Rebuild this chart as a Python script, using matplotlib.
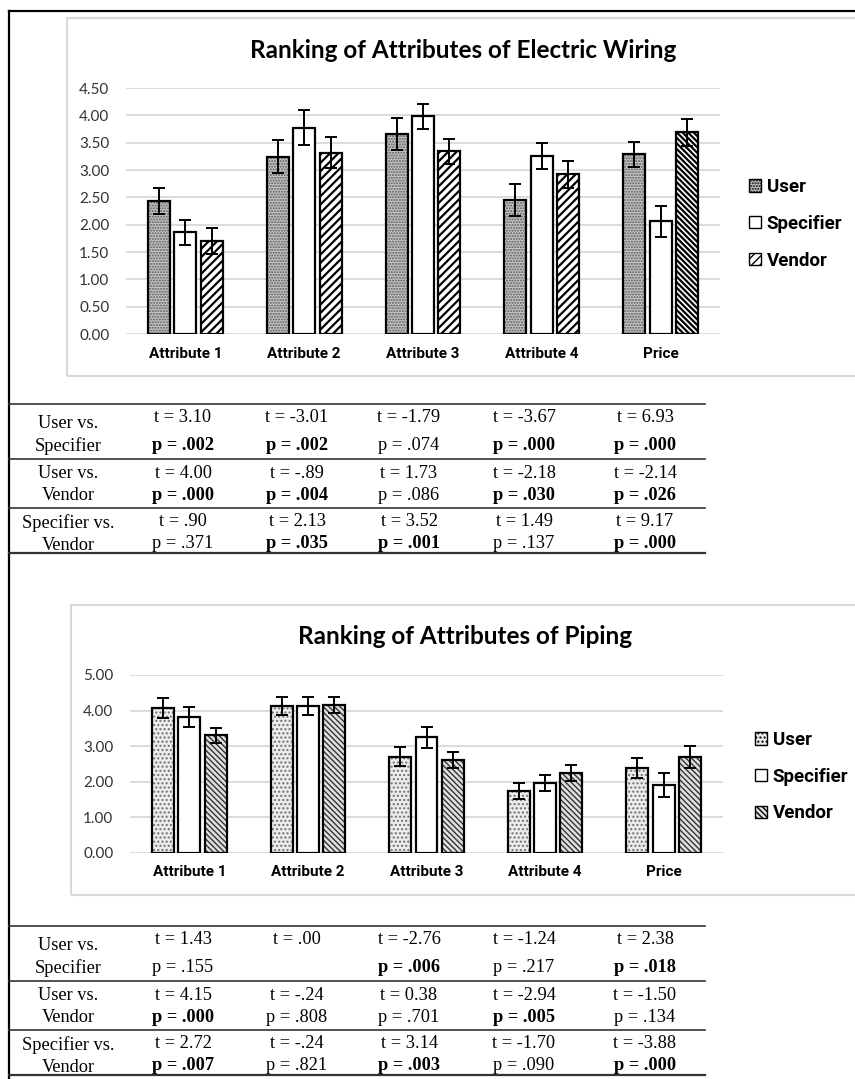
import matplotlib
matplotlib.use('Agg')
import matplotlib.pyplot as plt
import numpy as np
from matplotlib.patches import Rectangle, Patch
from matplotlib.lines import Line2D

categories = ['Attribute 1', 'Attribute 2', 'Attribute 3', 'Attribute 4', 'Price']
groups = ['User', 'Specifier', 'Vendor']

# electric wiring means and error half-widths
wiring_user = [2.43, 3.24, 3.66, 2.45, 3.29]
wiring_spec = [1.86, 3.77, 3.98, 3.25, 2.06]
wiring_vendor = [1.70, 3.32, 3.34, 2.92, 3.69]
wiring_user_err = [0.24, 0.30, 0.29, 0.29, 0.23]
wiring_spec_err = [0.23, 0.32, 0.23, 0.24, 0.29]
wiring_vendor_err = [0.24, 0.29, 0.23, 0.25, 0.25]

# piping means and error half-widths
piping_user = [4.07, 4.13, 2.70, 1.74, 2.39]
piping_spec = [3.82, 4.13, 3.25, 1.97, 1.91]
piping_vendor = [3.31, 4.16, 2.61, 2.25, 2.70]
piping_user_err = [0.27, 0.25, 0.27, 0.23, 0.29]
piping_spec_err = [0.29, 0.24, 0.30, 0.22, 0.34]
piping_vendor_err = [0.21, 0.23, 0.22, 0.23, 0.31]

pair_labels = [('User vs.', 'Specifier'), ('User vs.', 'Vendor'), ('Specifier vs.', 'Vendor')]

wiring_t = [['3.10', '-3.01', '-1.79', '-3.67', '6.93'],
            ['4.00', '-.89', '1.73', '-2.18', '-2.14'],
            ['.90', '2.13', '3.52', '1.49', '9.17']]
wiring_p = [['.002', '.002', '.074', '.000', '.000'],
            ['.000', '.004', '.086', '.030', '.026'],
            ['.371', '.035', '.001', '.137', '.000']]

piping_t = [['1.43', '.00', '-2.76', '-1.24', '2.38'],
            ['4.15', '-.24', '0.38', '-2.94', '-1.50'],
            ['2.72', '-.24', '3.14', '-1.70', '-3.88']]
piping_p = [['.155', '', '.006', '.217', '.018'],
            ['.000', '.808', '.701', '.005', '.134'],
            ['.007', '.821', '.003', '.090', '.000']]

W, H = 855, 1079
fig = plt.figure(figsize=(W / 100, H / 100), dpi=100)

TITLE_FONT = ['Lato', 'DejaVu Sans']
NARROW_FONT = ['Roboto', 'Liberation Sans', 'DejaVu Sans']
SERIF_FONT = ['Liberation Serif', 'DejaVu Serif']
TABLE_SIZE = 13.2


def fx(x):
    return x / W


def fy(y):
    return 1 - y / H


def box(x0, y0, x1, y1):
    fig.patches.append(Rectangle((fx(x0), fy(y1)), fx(x1 - x0), (y1 - y0) / H,
                                 transform=fig.transFigure, fill=False,
                                 edgecolor='#d9d9d9', lw=1.5, zorder=0))


def hline(x0, x1, y, lw=1.2, color='#333333'):
    fig.lines.append(Line2D([fx(x0), fx(x1)], [fy(y), fy(y)], transform=fig.transFigure,
                            color=color, lw=lw))


def draw_chart(rect, series, errs, styles, ymax, ystep, title, title_xy, legend_xy,
               price_vendor_hatch=None):
    x0, y0, x1, y1 = rect
    ax = fig.add_axes([fx(x0), fy(y1), fx(x1 - x0), (y1 - y0) / H])
    x = np.arange(len(categories))
    width = 0.185
    step = 0.222
    handles = []
    for i, (vals, err, st) in enumerate(zip(series, errs, styles)):
        pos = x + (i - 1) * step
        with plt.rc_context({'hatch.linewidth': st['hlw']}):
            # pattern layer (hatch takes the edge colour), then a black outline on top
            fill = ax.bar(pos, vals, width, color=st['face'], hatch=st['hatch'],
                          edgecolor=st['hcolor'], linewidth=0, zorder=2)
            if i == 2 and price_vendor_hatch:
                fill[-1].set_hatch(price_vendor_hatch)
            handles.append(Patch(facecolor=st['face'], hatch=st['hatch'], edgecolor=st['hcolor'],
                                 linewidth=0, label=groups[i]))
        ax.bar(pos, vals, width, fill=False, edgecolor='black', linewidth=1.6, zorder=2.5)
        ax.errorbar(pos, vals, yerr=err, fmt='none', ecolor='black',
                    elinewidth=1.4, capsize=4, capthick=1.4, zorder=3)
    ax.set_xlim(-0.5, len(categories) - 0.5)
    ax.set_ylim(0, ymax)
    ticks = np.arange(0, ymax + 0.001, ystep)
    ax.set_yticks(ticks)
    ax.set_yticklabels([f'{v:.2f}' for v in ticks], family=TITLE_FONT, fontsize=11,
                       color='#333333')
    ax.set_xticks(x)
    ax.set_xticklabels(categories, family=NARROW_FONT, fontsize=11, fontweight='bold')
    ax.tick_params(axis='y', length=0, pad=12)
    ax.tick_params(axis='x', length=0, pad=9)
    ax.grid(axis='y', color='#d9d9d9', lw=1.3, zorder=0)
    for s in ax.spines.values():
        s.set_visible(False)
    ax.set_axisbelow(True)
    fig.text(fx(title_xy[0]), fy(title_xy[1]), title, ha='center', va='center',
             family=TITLE_FONT, fontsize=17.5, fontweight='bold')
    leg = ax.legend(handles=handles, loc='upper left',
                    bbox_to_anchor=(fx(legend_xy[0]), fy(legend_xy[1])),
                    bbox_transform=fig.transFigure, frameon=False, handlelength=0.65,
                    handleheight=0.65, handletextpad=0.3, labelspacing=1.0, borderpad=0,
                    borderaxespad=0, prop={'family': NARROW_FONT, 'size': 13.5, 'weight': 'bold'})
    for h in leg.legend_handles:
        h.set_edgecolor('black')
        h.set_linewidth(1.0)
    return ax


def draw_table(y0, t_rows, p_rows):
    col_x = [183, 297, 409, 524, 645]
    hline(9, 705, y0)
    bases = [y0, y0 + 55, y0 + 104]
    ends = [y0 + 55, y0 + 104, y0 + 149]
    for r in range(3):
        base = bases[r]
        first, second = pair_labels[r]
        if r == 0:
            lab_y, t_y, p_y = (19, 42), 13, 42
        else:
            lab_y, t_y, p_y = (15, 37), 14, 36
        fig.text(fx(68), fy(base + lab_y[0]), first, ha='center', va='center',
                 family=SERIF_FONT, fontsize=TABLE_SIZE)
        fig.text(fx(68), fy(base + lab_y[1]), second, ha='center', va='center',
                 family=SERIF_FONT, fontsize=TABLE_SIZE)
        for c in range(5):
            fig.text(fx(col_x[c]), fy(base + t_y), f't = {t_rows[r][c]}', ha='center',
                     va='center', family=SERIF_FONT, fontsize=TABLE_SIZE)
            p = p_rows[r][c]
            if p:
                bold = float(p) < 0.05
                fig.text(fx(col_x[c]), fy(base + p_y), f'p = {p}', ha='center', va='center',
                         family=SERIF_FONT, fontsize=TABLE_SIZE,
                         fontweight='bold' if bold else 'normal')
        hline(9, 705, ends[r], lw=1.2 if r < 2 else 1.6)


# outer frame
fig.lines.append(Line2D([fx(9), fx(9)], [fy(11), 0], transform=fig.transFigure, color='black', lw=1.6))
fig.lines.append(Line2D([fx(9), 1], [fy(11), fy(11)], transform=fig.transFigure, color='black', lw=1.6))

# electric wiring chart
box(67, 18, 870, 376)
wiring_styles = [dict(face='#c4c4c4', hatch='......', hcolor='#5a5a5a', hlw=1.0),
                 dict(face='white', hatch='', hcolor='black', hlw=1.0),
                 dict(face='white', hatch='////', hcolor='black', hlw=1.6)]
draw_chart((126, 88, 720, 334),
           [wiring_user, wiring_spec, wiring_vendor],
           [wiring_user_err, wiring_spec_err, wiring_vendor_err],
           wiring_styles, 4.5, 0.5, 'Ranking of Attributes of Electric Wiring', (463, 50),
           (749, 178), price_vendor_hatch='\\\\\\\\\\\\')
draw_table(404, wiring_t, wiring_p)

# piping chart
box(71, 605, 870, 895)
piping_styles = [dict(face='#ececec', hatch='....', hcolor='#707070', hlw=1.0),
                 dict(face='white', hatch='', hcolor='black', hlw=1.0),
                 dict(face='#e0e0e0', hatch='\\\\\\\\\\\\', hcolor='#333333', hlw=1.0)]
draw_chart((130, 675, 723, 853),
           [piping_user, piping_spec, piping_vendor],
           [piping_user_err, piping_spec_err, piping_vendor_err],
           piping_styles, 5.0, 1.0, 'Ranking of Attributes of Piping', (465, 637),
           (755, 731))
draw_table(926, piping_t, piping_p)

fig.savefig('out.png', dpi=100)
